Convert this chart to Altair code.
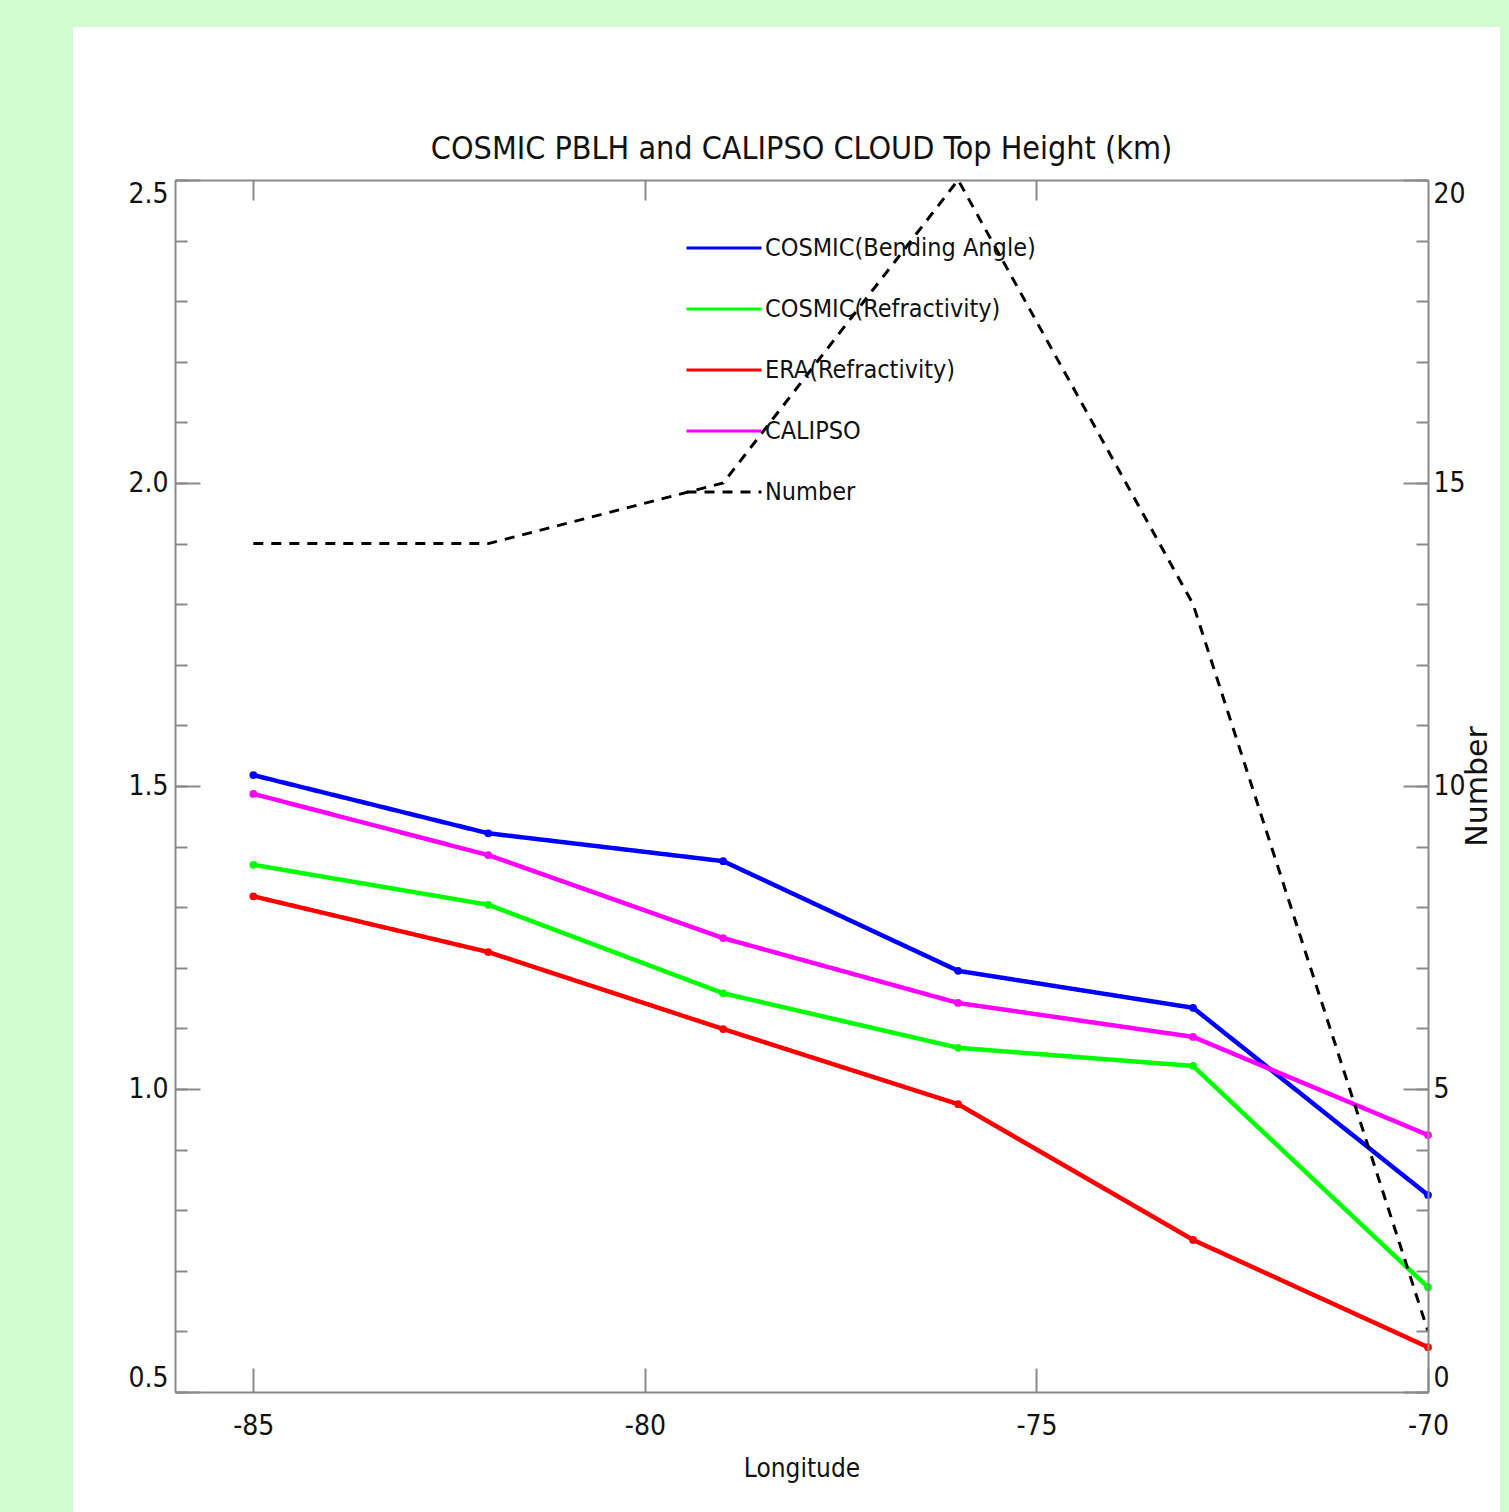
import altair as alt
import pandas as pd

# ---------------- data ----------------
longitude = [-85, -82, -79, -76, -73, -70]
bending_angle = [1.518, 1.422, 1.376, 1.195, 1.134, 0.825]
refractivity = [1.370, 1.304, 1.158, 1.068, 1.038, 0.673]
era_refractivity = [1.318, 1.226, 1.099, 0.975, 0.751, 0.574]
calipso = [1.487, 1.386, 1.249, 1.142, 1.086, 0.924]
number = [14, 14, 15, 20, 13, 1]

series_names = ["COSMIC(Bending Angle)", "COSMIC(Refractivity)",
                "ERA(Refractivity)", "CALIPSO", "Number"]
series_colors = ["#0000ff", "#00ff00", "#ff0000", "#ff00ff", "#000000"]
series_dash = [[1, 0], [1, 0], [1, 0], [1, 0], [10, 8]]

x_ticks = [-85, -80, -75, -70]
x_top_ticks = [-85, -80, -75]
y_left_ticks = [0.5, 1.0, 1.5, 2.0, 2.5]
y_left_minor = [round(0.5 + 0.1 * i, 1) for i in range(21)]
y_right_ticks = [0, 5, 10, 15, 20]
y_right_minor = list(range(0, 21))

title_text = "COSMIC PBLH and CALIPSO CLOUD Top Height (km)"

# ---------------- tables ----------------
rows = []
for name, vals in zip(series_names[:4], [bending_angle, refractivity, era_refractivity, calipso]):
    for lon, v in zip(longitude, vals):
        rows.append({"longitude": lon, "height": v, "series": name})
heights = pd.DataFrame(rows)
numbers = pd.DataFrame({"longitude": longitude, "number": number, "series": "Number"})

FONT = "DejaVu Sans Condensed, Liberation Sans Narrow, sans-serif"
AX = dict(domainColor="#8a8a8a", domainWidth=2, tickColor="#8a8a8a", tickWidth=2,
          grid=False, labelColor="#111111", labelFont=FONT, labelFontSize=28, zindex=2)

W, H = 1253, 1212
XD = [-86, -70]

LEG = dict(title=None, orient="none", legendX=510, legendY=53,
           symbolType="stroke", symbolSize=5625, symbolStrokeWidth=3,
           clipHeight=30, rowPadding=31, labelFontSize=25,
           labelFont=FONT, labelColor="#111111", labelOffset=2,
           labelLimit=700, padding=0, symbolOffset=0)

color_enc = alt.Color("series:N", scale=alt.Scale(domain=series_names, range=series_colors),
                      legend=alt.Legend(**LEG))
dash_enc = alt.StrokeDash("series:N", scale=alt.Scale(domain=series_names, range=series_dash),
                          legend=alt.Legend(**LEG))

# white panel behind the plot
panel = alt.Chart(pd.DataFrame({"a": [0]})).mark_rect(color="white").encode(
    x=alt.value(-102), x2=alt.value(1325), y=alt.value(-153), y2=alt.value(1340))

lines = alt.Chart(heights).mark_line(
    strokeWidth=4.5, point=alt.OverlayMarkDef(filled=True, size=60)
).encode(
    x=alt.X("longitude:Q", scale=alt.Scale(domain=XD, nice=False, zero=False),
            axis=alt.Axis(orient="bottom", values=x_ticks, tickSize={"expr": "-24"},
                          labelPadding=44, labelFlush=False, labelExpr="'' + datum.value",
                          title="Longitude", titleFont=FONT, titleFontSize=26,
                          titleFontWeight="normal", titleColor="#111111",
                          titleY=76, titleBaseline="middle", **AX)),
    y=alt.Y("height:Q", scale=alt.Scale(domain=[0.5, 2.5], nice=False, zero=False),
            axis=alt.Axis(orient="left", values=y_left_ticks, tickSize={"expr": "-25"},
                          labelPadding=32, labelFlush=True, format=".1f", title=None, **AX)),
    color=color_enc,
    strokeDash=dash_enc,
    order="longitude:Q",
)

minor_left = alt.Chart(heights).mark_point(opacity=0).encode(
    x=alt.X("longitude:Q", scale=alt.Scale(domain=XD, nice=False, zero=False),
            axis=alt.Axis(orient="top", values=x_top_ticks, tickSize={"expr": "-20"},
                          labels=False, title=None, **AX)),
    y=alt.Y("height:Q", scale=alt.Scale(domain=[0.5, 2.5], nice=False, zero=False),
            axis=alt.Axis(orient="left", values=y_left_minor, tickSize={"expr": "-12"},
                          labels=False, domain=False, title=None, **AX)),
)

num_line = alt.Chart(numbers).mark_line(strokeWidth=3).encode(
    x=alt.X("longitude:Q", scale=alt.Scale(domain=XD, nice=False, zero=False), axis=None),
    y=alt.Y("number:Q", scale=alt.Scale(domain=[0, 20], nice=False, zero=False),
            axis=alt.Axis(orient="right", values=y_right_ticks, tickSize={"expr": "-25"},
                          labelPadding=30, labelFlush=True, format="d",
                          title="Number", titleFont="DejaVu Sans", titleFontSize=30,
                          titleFontWeight="normal", titleColor="#111111", titleAngle=270,
                          titleX=49, titleY=606, titleBaseline="middle", titleAlign="center",
                          **AX)),
    color=color_enc,
    strokeDash=dash_enc,
    order="longitude:Q",
)

minor_right = alt.Chart(numbers).mark_point(opacity=0).encode(
    x=alt.X("longitude:Q", scale=alt.Scale(domain=XD, nice=False, zero=False), axis=None),
    y=alt.Y("number:Q", scale=alt.Scale(domain=[0, 20], nice=False, zero=False),
            axis=alt.Axis(orient="right", values=y_right_minor, tickSize={"expr": "-12"},
                          labels=False, domain=False, title=None, **AX)),
)

chart = alt.layer(panel, lines, minor_left, num_line, minor_right).resolve_scale(
    x="independent", y="independent"
).properties(
    width=W, height=H,
    title=alt.TitleParams(text=title_text, font=FONT, fontSize=32, fontWeight="normal",
                          color="#111111", anchor="middle", frame="group", offset=0,
                          dy=164, baseline="alphabetic"),
    background="#d0fcd0",
    padding={"left": 175, "top": 180, "right": 81, "bottom": 120},
    autosize=alt.AutoSizeParams(type="none"),
).configure_view(strokeWidth=0)

chart.save("out.html", embed_options={"renderer": "svg", "actions": False})
